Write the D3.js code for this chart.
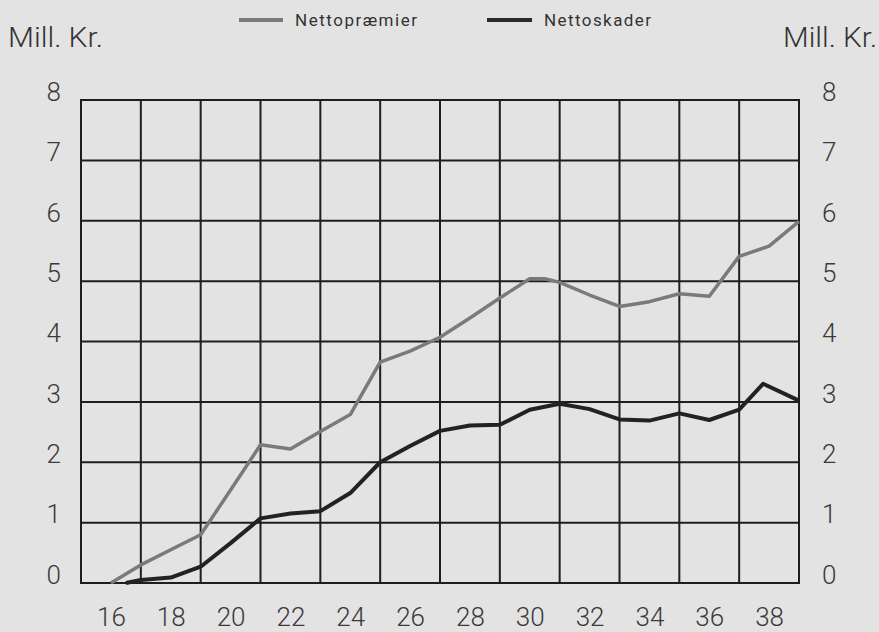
<!DOCTYPE html>
<html>
<head>
<meta charset="utf-8">
<script src="https://cdn.jsdelivr.net/npm/d3@7"></script>
<style>
  body { margin: 0; background: #e3e3e3; }
  svg { display: block; }
  text { font-family: "Roboto", "Liberation Sans", Arial, sans-serif; fill: #333; }
</style>
</head>
<body>
<div id="chart"></div>
<script>
"use strict";

// years and values (Mill. Kr.)
const premierYears = [16, 17, 18, 19, 20, 21, 22, 23, 24, 25, 26, 27, 28, 29, 30, 30.5, 31, 32, 33, 34, 35, 36, 37, 38, 39];
const premier = [0, 0.30, 0.55, 0.80, 1.54, 2.29, 2.22, 2.51, 2.79, 3.66, 3.84, 4.07, 4.39, 4.72, 5.04, 5.04, 4.98, 4.77, 4.58, 4.66, 4.79, 4.75, 5.41, 5.58, 5.99];
const skaderYears = [16.5, 17, 18, 19, 20, 21, 22, 23, 24, 25, 26, 27, 28, 29, 30, 31, 32, 33, 34, 35, 36, 37, 37.8, 39];
const skader = [0, 0.05, 0.09, 0.27, 0.66, 1.07, 1.15, 1.19, 1.49, 2.0, 2.27, 2.52, 2.61, 2.62, 2.87, 2.97, 2.88, 2.71, 2.69, 2.81, 2.70, 2.87, 3.30, 3.02];
const xTicks = [16, 18, 20, 22, 24, 26, 28, 30, 32, 34, 36, 38];
const xGrid = [15, 17, 19, 21, 23, 25, 27, 29, 31, 33, 35, 37, 39];
const yTicks = [0, 1, 2, 3, 4, 5, 6, 7, 8];

(function () {
  let width = 879;
  let height = 632;

  let svg = d3.select('#chart').append('svg')
    .attr('width', width)
    .attr('height', height);

  let x = d3.scaleLinear().domain([15, 39]).range([81, 799]);
  let y = d3.scaleLinear().domain([0, 8]).range([583, 100]);

  // grid
  svg.append('g').selectAll('line.v')
    .data(xGrid)
    .enter()
    .append('line')
    .attr('class', 'v')
    .attr('x1', d => x(d)).attr('x2', d => x(d))
    .attr('y1', y(8)).attr('y2', y(0))
    .style('stroke', '#1e1e1e')
    .style('stroke-width', 2);

  svg.append('g').selectAll('line.h')
    .data(yTicks)
    .enter()
    .append('line')
    .attr('class', 'h')
    .attr('x1', x(15) - 1).attr('x2', x(39) + 1)
    .attr('y1', d => y(d)).attr('y2', d => y(d))
    .style('stroke', '#1e1e1e')
    .style('stroke-width', 2);

  // y labels both sides (sit a little above the grid lines)
  let yAxisL = d3.axisLeft(y).tickValues(yTicks).tickSize(0).tickPadding(12);
  let yAxisR = d3.axisRight(y).tickValues(yTicks).tickSize(0).tickPadding(15);
  let xAxis = d3.axisBottom(x).tickValues(xTicks).tickSize(0).tickPadding(25);

  [svg.append('g').attr('transform', 'translate(' + (x(15) - 8) + ',-8)').call(yAxisL),
   svg.append('g').attr('transform', 'translate(' + (x(39) + 8) + ',-8)').call(yAxisR),
   svg.append('g').attr('transform', 'translate(0,' + y(0) + ')').call(xAxis)]
    .forEach(function (g) {
      g.select('.domain').remove();
      g.selectAll('text')
        .style('font-size', '26px')
        .style('font-weight', 300)
        .style('fill', '#3a3a3a');
    });

  // lines
  let line = d3.line()
    .x(d => x(d[0]))
    .y(d => y(d[1]));

  svg.append('path')
    .datum(premierYears.map((yr, i) => [yr, premier[i]]))
    .attr('d', line)
    .style('fill', 'none')
    .style('stroke', '#7a7a7a')
    .style('stroke-width', 3.5)
    .style('stroke-linejoin', 'round');

  svg.append('path')
    .datum(skaderYears.map((yr, i) => [yr, skader[i]]))
    .attr('d', line)
    .style('fill', 'none')
    .style('stroke', '#222')
    .style('stroke-width', 4)
    .style('stroke-linejoin', 'round');

  // unit labels
  svg.append('text')
    .text('Mill. Kr.')
    .attr('x', 8).attr('y', 47)
    .style('font-size', '27px')
    .style('font-weight', 300)
    .attr('textLength', 95)
    .attr('lengthAdjust', 'spacingAndGlyphs');

  svg.append('text')
    .text('Mill. Kr.')
    .attr('x', 783).attr('y', 47)
    .style('font-size', '27px')
    .style('font-weight', 300)
    .attr('textLength', 94)
    .attr('lengthAdjust', 'spacingAndGlyphs');

  // legend
  let legend = [
    { name: 'Nettopræmier', color: '#7a7a7a', x: 239, w: 44, len: 122 },
    { name: 'Nettoskader', color: '#2a2a2a', x: 487, w: 45, len: 107 }
  ];

  let items = svg.selectAll('g.legend')
    .data(legend)
    .enter()
    .append('g')
    .attr('class', 'legend')
    .attr('transform', d => 'translate(' + d.x + ',0)');

  items.append('rect')
    .attr('x', 0).attr('y', 18)
    .attr('width', d => d.w)
    .attr('height', 4)
    .style('fill', d => d.color);

  items.append('text')
    .text(d => d.name)
    .attr('x', d => d.w + 12)
    .attr('y', 26)
    .style('font-size', '17px')
    .attr('textLength', d => d.len)
    .attr('lengthAdjust', 'spacing');
})();
</script>
</body>
</html>
